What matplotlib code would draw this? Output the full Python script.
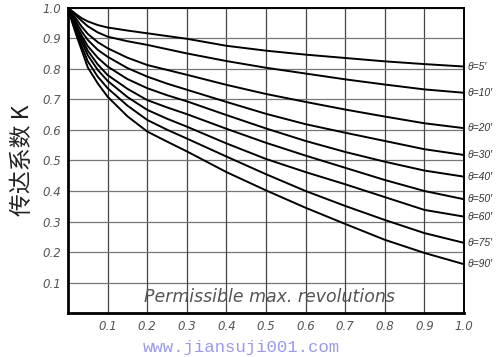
import matplotlib
matplotlib.use("Agg")
from matplotlib import pyplot as plt

# x = permissible max. revolutions (relative), K = transmission coefficient
x = [0, 0.01, 0.02, 0.035, 0.05, 0.075, 0.1, 0.15, 0.2, 0.25, 0.3, 0.4, 0.5, 0.6, 0.7, 0.8, 0.9, 1.0]
k5 = [1.0, 0.99, 0.98, 0.966, 0.956, 0.944, 0.936, 0.926, 0.917, 0.908, 0.899, 0.876, 0.86, 0.847, 0.836, 0.825, 0.816, 0.808]
k10 = [1.0, 0.988, 0.975, 0.957, 0.94, 0.92, 0.906, 0.891, 0.879, 0.865, 0.851, 0.826, 0.804, 0.785, 0.766, 0.749, 0.733, 0.722]
k20 = [1.0, 0.982, 0.965, 0.938, 0.915, 0.888, 0.868, 0.837, 0.813, 0.797, 0.781, 0.748, 0.718, 0.692, 0.667, 0.644, 0.622, 0.606]
k30 = [1.0, 0.976, 0.955, 0.922, 0.895, 0.863, 0.84, 0.803, 0.775, 0.752, 0.732, 0.692, 0.653, 0.619, 0.591, 0.564, 0.537, 0.518]
k40 = [1.0, 0.972, 0.945, 0.908, 0.875, 0.837, 0.808, 0.767, 0.737, 0.714, 0.694, 0.649, 0.605, 0.564, 0.528, 0.496, 0.467, 0.447]
k50 = [1.0, 0.968, 0.94, 0.898, 0.86, 0.815, 0.78, 0.735, 0.698, 0.674, 0.652, 0.604, 0.558, 0.516, 0.476, 0.436, 0.4, 0.373]
k60 = [1.0, 0.965, 0.935, 0.888, 0.845, 0.797, 0.761, 0.708, 0.666, 0.637, 0.611, 0.556, 0.505, 0.462, 0.422, 0.38, 0.338, 0.316]
k75 = [1.0, 0.96, 0.925, 0.873, 0.825, 0.775, 0.737, 0.68, 0.633, 0.601, 0.572, 0.513, 0.455, 0.4, 0.351, 0.305, 0.262, 0.23]
k90 = [1.0, 0.955, 0.915, 0.86, 0.805, 0.753, 0.709, 0.645, 0.595, 0.562, 0.53, 0.462, 0.402, 0.345, 0.292, 0.24, 0.197, 0.16]
curves = [k5, k10, k20, k30, k40, k50, k60, k75, k90]
labels = ["θ=5′", "θ=10′", "θ=20′", "θ=30′", "θ=40′", "θ=50′", "θ=60′", "θ=75′", "θ=90′"]
ticks = [0.1, 0.2, 0.3, 0.4, 0.5, 0.6, 0.7, 0.8, 0.9, 1.0]
tick_labels = ["0.1", "0.2", "0.3", "0.4", "0.5", "0.6", "0.7", "0.8", "0.9", "1.0"]

fig = plt.figure(figsize=(5, 3.57), dpi=100)
ax = fig.add_axes([0.136, 0.1232, 0.792, 0.8545])
ax.set_xlim(0, 1)
ax.set_ylim(0, 1)

# grid
for t in ticks:
    ax.axvline(t, color="#444444", lw=0.9, zorder=1)
    ax.axhline(t, color="#777777", lw=0.9, zorder=1)

for c, lab in zip(curves, labels):
    ax.plot(x, c, color="black", lw=1.4, zorder=3, solid_joinstyle="round")
    ax.text(1.01, c[-1], lab, fontsize=7.5, style="italic", color="#333333",
            family="Liberation Sans", va="center", ha="left", clip_on=False)

ax.set_xticks(ticks)
ax.set_xticklabels(tick_labels)
ax.set_yticks(ticks)
ax.set_yticklabels(tick_labels)
ax.tick_params(length=0, labelsize=8.5, labelcolor="#555555", pad=5)
for lab in ax.get_xticklabels() + ax.get_yticklabels():
    lab.set_style("italic")

for s in ["left", "bottom"]:
    ax.spines[s].set_linewidth(2)
for s in ["top", "right"]:
    ax.spines[s].set_linewidth(1.4)

ax.text(0.509, 0.052, "Permissible max. revolutions", fontsize=12.5, style="italic",
        color="#555555", ha="center", va="center", zorder=4)

fig.text(0.045, 0.55, "传达系数 K", rotation=90, fontsize=16.5, ha="center", va="center",
         family=["Noto Sans CJK SC", "DejaVu Sans"], fontweight="light", color="#222222")

fig.text(0.482, 0.028, "www.jiansuji001.com", fontsize=12.5, color="#9a9af0",
         family="Liberation Mono", ha="center", va="center")

fig.savefig("out.png", dpi=100)
